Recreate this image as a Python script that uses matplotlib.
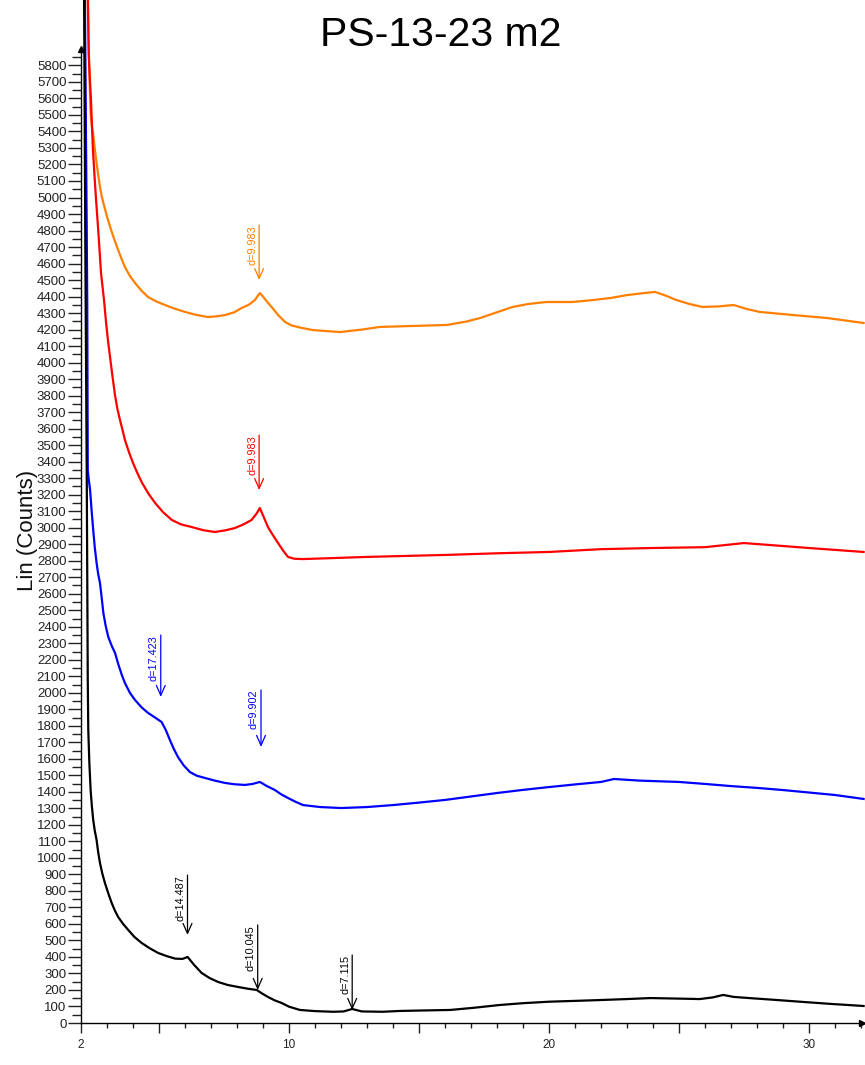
import numpy as np
import matplotlib
matplotlib.use("Agg")
import matplotlib.pyplot as plt
from matplotlib import font_manager
from matplotlib.ticker import FixedLocator, MultipleLocator

# 2-theta (deg) and intensity (counts) for the four scans
orange_x = [2.27, 2.30, 2.34, 2.37, 2.42, 2.47, 2.52, 2.57, 2.65, 2.73, 2.8, 2.88, 3.0, 3.12,
            3.27, 3.43, 3.56, 3.69, 3.88, 4.08, 4.3, 4.58, 4.9, 5.23, 5.6, 6.0, 6.4, 6.88,
            7.2, 7.54, 7.9, 8.18, 8.45, 8.69, 8.8, 8.88, 9.0, 9.15, 9.33, 9.6, 9.85, 10.1,
            10.49, 10.92, 11.96, 12.8, 13.5, 14.77, 16.08, 16.8, 17.35, 18.0, 18.6, 19.2,
            19.9, 20.9, 21.7, 22.4, 23.0, 23.6, 24.08, 24.5, 24.9, 25.4, 25.9, 26.5, 27.1,
            27.6, 28.1, 29.4, 30.7, 32.1]
orange_y = [6196, 5900, 5650, 5512, 5430, 5380, 5310, 5245, 5150, 5064, 5005, 4955, 4885, 4822,
            4750, 4682, 4628, 4579, 4525, 4482, 4440, 4397, 4370, 4349, 4327, 4307, 4290, 4276,
            4280, 4288, 4305, 4331, 4350, 4379, 4405, 4421, 4400, 4370, 4337, 4285, 4246, 4225,
            4210, 4197, 4185, 4200, 4216, 4222, 4228, 4248, 4270, 4305, 4337, 4355,
            4367, 4367, 4379, 4392, 4409, 4420, 4428, 4405, 4379, 4355, 4337, 4340, 4349,
            4325, 4307, 4288, 4270, 4240]

red_x = [2.26, 2.30, 2.34, 2.385, 2.42, 2.46, 2.52, 2.58, 2.67, 2.77, 2.885, 2.96, 3.04, 3.12,
         3.2, 3.31, 3.4, 3.5, 3.6, 3.69, 3.85, 4.0, 4.17, 4.35, 4.6, 4.85, 5.15, 5.49, 5.85,
         6.26, 6.7, 7.15, 7.55, 7.92, 8.25, 8.56, 8.75, 8.88, 9.0, 9.19, 9.38, 9.58, 9.78,
         9.96, 10.2, 10.54, 11.5, 13.0, 16.0, 18.0, 20.0, 22.0, 24.0, 26.0, 27.5, 28.5,
         30.0, 32.1]
red_y = [6196, 5851, 5720, 5590, 5440, 5288, 5130, 4985, 4785, 4543, 4379, 4250, 4130, 4030,
         3930, 3800, 3720, 3652, 3590, 3531, 3455, 3392, 3330, 3271, 3205, 3150, 3095, 3047, 3020,
         3004, 2985, 2974, 2984, 2998, 3020, 3047, 3085, 3119, 3075, 3004, 2955, 2907, 2860,
         2823, 2812, 2810, 2815, 2823, 2835, 2845, 2853, 2870, 2877, 2882, 2907, 2895,
         2877, 2853]

blue_x = [2.15, 2.19, 2.22, 2.24, 2.26, 2.3, 2.35, 2.41, 2.47, 2.53, 2.6, 2.66, 2.73, 2.8,
          2.86, 2.95, 3.05, 3.18, 3.31, 3.44, 3.57, 3.69, 3.88, 4.08, 4.33, 4.58, 4.85, 5.1,
          5.26, 5.42, 5.57, 5.73, 5.95, 6.19, 6.45, 6.77, 7.15, 7.54, 7.9, 8.31, 8.6, 8.88,
          9.15, 9.46, 9.7, 9.96, 10.25, 10.54, 11.2, 12.0, 13.0, 14.0, 15.0, 16.0, 17.0,
          18.0, 19.0, 20.0, 21.0, 22.0, 22.5, 23.5, 25.0, 26.0, 27.0, 28.0, 29.0, 30.0,
          31.0, 32.1]
blue_y = [6196, 5409, 4800, 4361, 3349, 3290, 3228, 3100, 2986, 2880, 2786, 2720, 2665, 2570,
          2483, 2405, 2338, 2285, 2241, 2170, 2108, 2059, 2000, 1956, 1912, 1878, 1850, 1823,
          1775, 1714, 1660, 1611, 1560, 1520, 1498, 1484, 1468, 1454, 1446, 1442, 1448, 1460,
          1435, 1411, 1385, 1363, 1340, 1320, 1308, 1302, 1308, 1320, 1335, 1351, 1372,
          1393, 1412, 1429, 1445, 1460, 1478, 1468, 1460, 1448, 1435, 1424, 1411, 1396,
          1381, 1357]

black_x = [2.12, 2.17, 2.22, 2.26, 2.28, 2.32, 2.37, 2.42, 2.47, 2.53, 2.6, 2.66, 2.73, 2.82,
           2.92, 3.05, 3.18, 3.3, 3.43, 3.62, 3.82, 4.05, 4.33, 4.65, 4.97, 5.3, 5.62, 5.9,
           6.1, 6.35, 6.64, 6.95, 7.28, 7.65, 8.05, 8.4, 8.76, 8.95, 9.2, 9.45, 9.72, 10.0,
           10.42, 11.0, 11.7, 12.1, 12.43, 12.8, 13.6, 14.27, 15.2, 16.2, 17.1, 18.1, 19.0,
           20.0, 21.0, 21.96, 23.0, 23.9, 24.9, 25.8, 26.3, 26.7, 27.1, 27.7, 28.7, 29.65,
           30.8, 32.1]
black_y = [6196, 4600, 3349, 2077, 1775, 1580, 1411, 1310, 1230, 1165, 1108, 1035, 969, 905,
           848, 785, 727, 682, 642, 600, 563, 522, 485, 452, 424, 405, 390, 388,
           400, 352, 303, 272, 248, 230, 218, 208, 200, 180, 157, 137, 121, 99,
           79, 72, 68, 70, 85, 70, 68, 73, 76, 79, 92, 109, 120,
           129, 134, 139, 145, 151, 148, 145, 155, 170, 158, 151, 140, 129,
           116, 103]

# peak markers: colour, d-spacing (A), arrow tip and arrow tail intensity
peak_color = ["#FF8000", "#FF0000", "#0000FF", "#0000FF", "#000000", "#000000", "#000000"]
peak_d = [9.983, 9.983, 17.423, 9.902, 14.487, 10.045, 7.115]
peak_tip = [4500, 3228, 1975, 1672, 533, 200, 79]
peak_tail = [4833, 3561, 2350, 2017, 896, 594, 412]

WAVELENGTH = 1.5406  # Cu K-alpha1

names = {f.name for f in font_manager.fontManager.ttflist}
main_font = "Liberation Sans" if "Liberation Sans" in names else "DejaVu Sans"
if "Liberation Sans Narrow" in names:
    ann_font, ann_size = "Liberation Sans Narrow", 9.5
else:
    ann_font, ann_size = main_font, 7.8

fig = plt.figure(figsize=(8.65, 10.65), dpi=100)
W, H = 865.0, 1065.0
ax = fig.add_axes([81 / W, 42 / H, 1 - 81 / W, 1 - 42 / H])
ax.set_xlim(2, 2 + 784 / 26.0)
ax.set_ylim(0, 1023 / 0.1651)

for xs, ys, c in [(orange_x, orange_y, "#FF8000"), (red_x, red_y, "#FF0000"),
                  (blue_x, blue_y, "#0000FF"), (black_x, black_y, "#000000")]:
    ax.plot(xs, ys, color=c, lw=1.6, solid_joinstyle="round")

for c, d, tip, tail in zip(peak_color, peak_d, peak_tip, peak_tail):
    tth = 2 * np.degrees(np.arcsin(WAVELENGTH / (2 * d)))
    ax.annotate("", xy=(tth, tip), xytext=(tth, tail),
                arrowprops=dict(arrowstyle="->,head_length=0.9,head_width=0.4",
                                color=c, lw=0.9, shrinkA=0, shrinkB=0, mutation_scale=8))
    ax.annotate(f"d={d:.3f}", xy=(tth, tail), xytext=(-1.5, 0), textcoords="offset points",
                rotation=90, ha="right", va="top", color=c,
                fontsize=ann_size, family=ann_font)

# axes styling
for s in ("top", "right"):
    ax.spines[s].set_visible(False)
ax.spines["left"].set_bounds(0, 5890)
ax.spines["left"].set_linewidth(1.0)
ax.spines["bottom"].set_linewidth(1.0)

ax.yaxis.set_major_locator(FixedLocator(np.arange(0, 5801, 100)))
ax.yaxis.set_minor_locator(FixedLocator(np.arange(50, 5851, 100)))
ax.tick_params(axis="y", which="major", length=9.5, width=1.0, pad=1,
               labelsize=9.5, colors="#222222")
ax.tick_params(axis="y", which="minor", length=6.5, width=1.0, color="#222222")
for lab in ax.get_yticklabels():
    lab.set_family(main_font)

ax.xaxis.set_major_locator(FixedLocator([2, 5, 10, 15, 20, 25, 30]))
ax.xaxis.set_minor_locator(MultipleLocator(1))
ax.set_xticklabels(["2", "", "10", "", "20", "", "30"])
ax.tick_params(axis="x", which="major", length=7.2, width=1.0, pad=4,
               labelsize=8.5, colors="#222222")
ax.tick_params(axis="x", which="minor", length=3.8, width=1.0, color="#222222")
for lab in ax.get_xticklabels():
    lab.set_family(main_font)

# axis end arrows
ax.plot([2], [5900], marker="^", ms=5, color="black", clip_on=False, zorder=5)
ax.plot([ax.get_xlim()[1] - 0.1], [0], marker=">", ms=5, color="black", clip_on=False, zorder=5)

fig.text(27 / W, 1 - 530 / H, "Lin (Counts)", rotation=90, ha="center", va="center",
         fontsize=16, family=main_font, color="#111111")
fig.text(441 / W, 1 - 35 / H, "PS-13-23 m2", ha="center", va="center",
         fontsize=29.5, family=main_font, color="black")

fig.savefig("out.png", dpi=100)
